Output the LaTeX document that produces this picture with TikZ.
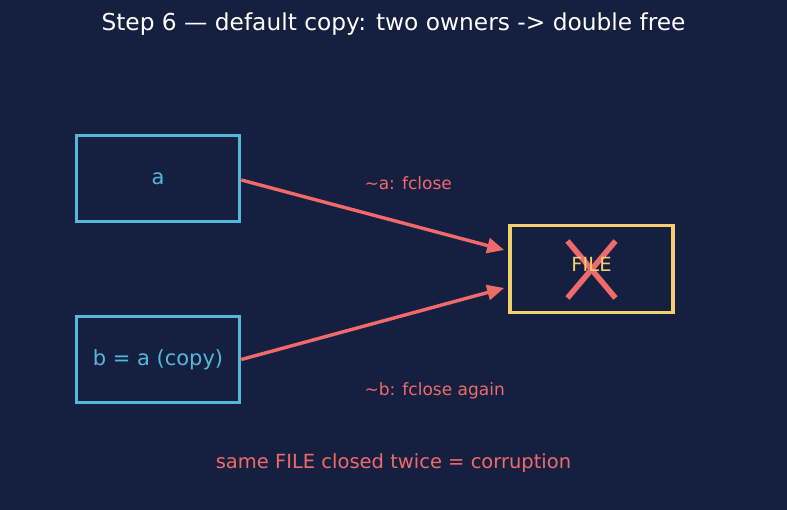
\documentclass[tikz,border=0pt]{standalone}
\usepackage{fontspec}
\setmainfont{DejaVu Sans}
\usepackage{xcolor}
\usetikzlibrary{positioning, arrows.meta}

\definecolor{bgnavy}{HTML}{152040}
\definecolor{ownercyan}{HTML}{56B8D8}
\definecolor{fileyellow}{HTML}{F3D06E}
\definecolor{badred}{HTML}{F06A6A}

\begin{document}
\begin{tikzpicture}[x=1pt, y=-1pt, every node/.style={font=\fontsize{21}{25}\selectfont},
    ownerbox/.style={rectangle, draw=ownercyan, line width=3.6pt, text=ownercyan, minimum width=163pt, minimum height=86pt},
    filebox/.style={rectangle, draw=fileyellow, line width=3.6pt, text=fileyellow, minimum width=163pt, minimum height=87pt},
    arrow/.style={-{Triangle[length=17pt, width=15pt]}, line width=3.4pt, badred},
    note/.style={text=badred, font=\fontsize{17}{20}\selectfont, anchor=west},
    cross/.style={badred, line width=5.5pt}]

    % Background
    \fill[bgnavy] (0,0) rectangle (787,510);

    % Title
    \node[text=white, font=\fontsize{23.3}{28}\selectfont] (title) at (393.5,24) {Step 6 — default copy: two owners -> double free};

    % Nodes
    \node[ownerbox] (ownera) at (158,178.5) {a};
    \node[ownerbox] (ownerb) at (158,359.5) {b = a (copy)};
    \node[filebox] (file) at (591.5,269) {};

    % Crossed-out FILE
    \draw[cross] ([xshift=-24pt, yshift=28pt]file.center) -- ([xshift=24pt, yshift=-29pt]file.center);
    \draw[cross] ([xshift=24pt, yshift=28pt]file.center) -- ([xshift=-24pt, yshift=-29pt]file.center);
    \node[text=fileyellow, font=\fontsize{19.5}{23}\selectfont] (filelabel) at ([yshift=5pt]file.center) {FILE};

    % Arrows
    \coordinate (hita) at ([yshift=19pt]file.west);
    \coordinate (hitb) at ([yshift=-19pt]file.west);
    \draw[arrow] ([yshift=-1.5pt]ownera.east) -- ([xshift=-4pt]hita);
    \draw[arrow] (ownerb.east) -- ([xshift=-4pt]hitb);

    % Labels
    \node[note] (closea) at (361,183) {\textasciitilde a: fclose};
    \node[note] (closeb) at (361,391) {\textasciitilde b: fclose again};
    \node[text=badred, font=\fontsize{19.5}{23}\selectfont] (summary) at (393.5,463) {same FILE closed twice = corruption};

\end{tikzpicture}
\end{document}
